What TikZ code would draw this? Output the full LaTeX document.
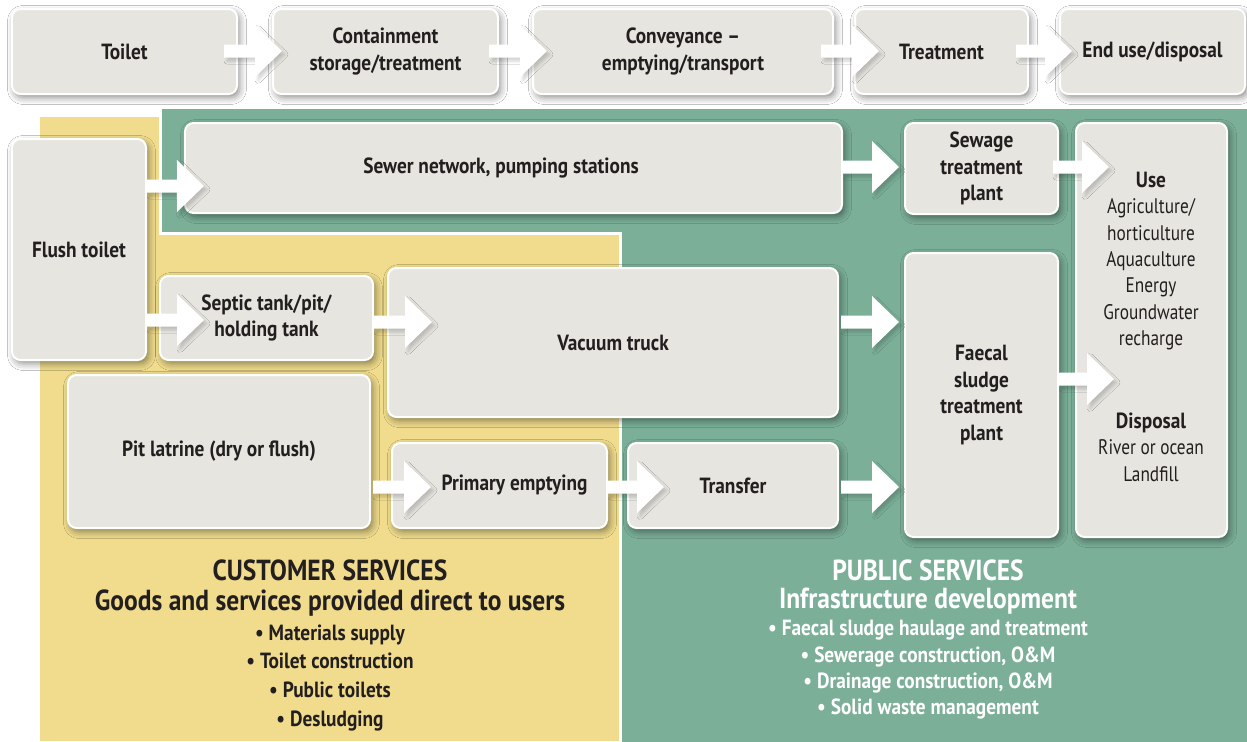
\documentclass[tikz,border=0pt]{standalone}
\usepackage{fontspec}
\setmainfont{PT Sans}[FakeStretch=0.88]
\newfontfamily\plainfont{PT Sans}[FakeStretch=0.82]
\usetikzlibrary{calc,shadows.blur}
\definecolor{yel}{HTML}{F0DC8C}
\definecolor{grn}{HTML}{7BAF98}
\definecolor{boxg}{HTML}{E6E5E0}
\definecolor{ink}{HTML}{231F20}
\newcommand\barr[6]{%
  \coordinate (#1s) at ($(#2 |- 0,#6)+(#3,0)$);
  \coordinate (#1e) at ($(#4 |- 0,#6)+(#5,0)$);
  \path[barrow] (#1s) to (#1e);}
\newcommand\bx[6]{%
  \pgfmathsetmacro\bw{(#4-#2)*0.02}%
  \pgfmathsetmacro\bh{(#5-#3)*0.02}%
  \node[box, minimum width=\bw cm, minimum height=\bh cm] (#1) at ({(#2+#4)/2},{(#3+#5)/2}) {#6};}
\begin{document}
\begin{tikzpicture}[x=0.02cm,y=-0.02cm,
  box/.style={rounded corners=0.17cm, fill=boxg, draw=white, line width=0.04cm,
    inner sep=0pt, align=center, text=ink,
    font=\bfseries\fontsize{12.5}{15}\selectfont,
    blur shadow={shadow xshift=0.05cm, shadow yshift=-0.07cm, shadow blur radius=0.14cm, shadow opacity=45}},
  barrow/.style={fill=white,
    blur shadow={shadow xshift=0.06cm, shadow yshift=-0.07cm, shadow blur radius=0.06cm, shadow opacity=18},
    to path={($(\tikztostart)+(0,-6.5)$) -- ($(\tikztotarget)+(-27,-6.5)$) -- ($(\tikztotarget)+(-27,-26)$) -- (\tikztotarget) -- ($(\tikztotarget)+(-27,26)$) -- ($(\tikztotarget)+(-27,6.5)$) -- ($(\tikztostart)+(0,6.5)$) -- cycle}},
  head/.style={font=\bfseries\fontsize{16.5}{17}\selectfont, align=center, inner sep=0pt},
  bul/.style={font=\bfseries\fontsize{12.5}{16.5}\selectfont, align=center, inner sep=0pt},
  plain/.style={font=\plainfont\fontsize{12}{15}\selectfont, align=center, inner sep=0pt, text=ink}
]
\fill[white] (0,0) rectangle (1247,741);
\useasboundingbox (0,0) rectangle (1247,741);
% regions
\fill[yel] (40,117) rectangle (621,741);
\filldraw[fill=grn, draw=white, line width=0.06cm] (160,107) -- (1250,107) -- (1250,744) -- (620,744) -- (620,233) -- (160,233) -- cycle;
% top row
\bx{toilet}{12}{9}{237}{94}{Toilet}
\bx{cont}{273}{9}{498}{94}{Containment\\storage/treatment}
\bx{conv}{533}{9}{833}{94}{Conveyance --\\emptying/transport}
\bx{treat}{855}{9}{1028}{94}{Treatment}
\bx{endu}{1060}{9}{1245}{94}{End use/disposal}
% main boxes
\bx{flush}{12}{139}{146}{360}{Flush toilet}
\bx{sewer}{185}{123}{842}{213}{\hspace*{-0.5cm}Sewer network, pumping stations}
\bx{septic}{160}{276}{373}{360}{Septic tank/pit/\\holding tank}
\bx{vacuum}{388}{268}{838}{417}{Vacuum truck}
\bx{pit}{68}{375}{370}{528}{Pit latrine (dry or flush)}
\bx{primary}{392}{443}{607}{528}{\hspace*{0.6cm}Primary emptying}
\bx{transfer}{628}{443}{838}{528}{Transfer}
\bx{sewage}{905}{123}{1058}{214}{Sewage\\treatment\\plant}
\bx{faecal}{905}{253}{1058}{537}{Faecal\\sludge\\treatment\\plant}
\bx{use}{1076}{123}{1227}{537}{}
\node[plain] (usetxt) at (1151,261) {{\rmfamily\bfseries\fontsize{12.5}{15}\selectfont Use}\\Agriculture/\\horticulture\\Aquaculture\\Energy\\Groundwater\\recharge};
\node[plain] (disptxt) at (1151,447) {{\rmfamily\bfseries\fontsize{12.5}{15}\selectfont Disposal}\\River or ocean\\Landfill};
% arrows
\barr{a1}{toilet.east}{-14}{cont.west}{10}{51}
\barr{a2}{cont.east}{-10}{conv.west}{15}{51}
\barr{a3}{conv.east}{-13}{treat.west}{25}{51}
\barr{a4}{treat.east}{-13}{endu.west}{13}{51}
\barr{b1}{flush.east}{0}{sewer.west}{20}{186}
\barr{b2}{flush.east}{0}{septic.west}{45}{320}
\barr{b3}{septic.east}{0}{vacuum.west}{45}{322}
\barr{b4}{pit.east}{2}{primary.west}{40}{487}
\barr{b5}{primary.east}{0}{transfer.west}{37}{487}
\barr{b6}{sewer.east}{0}{sewage.west}{-5}{167}
\barr{b7}{vacuum.east}{2}{faecal.west}{-5}{322}
\barr{b8}{transfer.east}{2}{faecal.west}{-5}{487}
\barr{b9}{sewage.east}{-6}{use.west}{34}{167}
\barr{b10}{faecal.east}{0}{use.west}{39}{379}
% service texts
\node[head, text=ink] (cshead) at (330,588) {CUSTOMER SERVICES\\Goods and services provided direct to users};
\node[bul, text=ink] (csbul) at (330,678) {• Materials supply\\• Toilet construction\\• Public toilets\\• Desludging};
\node[head, text=white, font=\bfseries\fontsize{16.5}{15.5}\selectfont] (pshead) at (928,587) {PUBLIC SERVICES\\Infrastructure development};
\node[bul, text=white, font=\bfseries\fontsize{12.5}{15}\selectfont] (psbul) at (928,670) {• Faecal sludge haulage and treatment\\• Sewerage construction, O\&M\\• Drainage construction, O\&M\\• Solid waste management};
\end{tikzpicture}
\end{document}
